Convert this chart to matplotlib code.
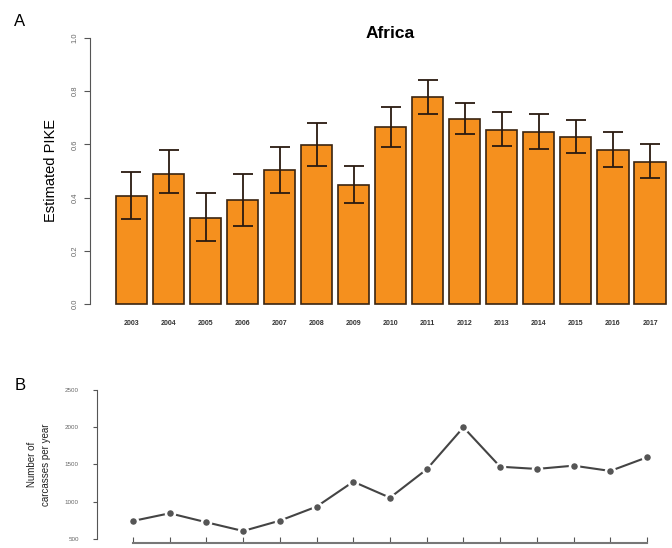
import numpy as np
import matplotlib
matplotlib.use("Agg")
import matplotlib.pyplot as plt

plt.rcParams['font.family'] = ['Liberation Sans', 'DejaVu Sans']

years = [2003, 2004, 2005, 2006, 2007, 2008, 2009, 2010,
         2011, 2012, 2013, 2014, 2015, 2016, 2017]
pike = [0.406, 0.490, 0.323, 0.391, 0.504, 0.598, 0.447, 0.665,
        0.778, 0.695, 0.654, 0.647, 0.628, 0.579, 0.534]
pike_lo = [0.320, 0.417, 0.237, 0.293, 0.417, 0.519, 0.380, 0.590,
           0.714, 0.639, 0.594, 0.583, 0.567, 0.515, 0.474]
pike_hi = [0.496, 0.580, 0.417, 0.489, 0.590, 0.680, 0.519, 0.741,
           0.842, 0.755, 0.722, 0.714, 0.692, 0.647, 0.600]
carcasses = [742, 845, 724, 607, 746, 934, 1269, 1054,
             1435, 1999, 1470, 1440, 1484, 1413, 1596]
pike_ticks = [0.0, 0.2, 0.4, 0.6, 0.8, 1.0]
carc_ticks = [500, 1000, 1500, 2000, 2500]

W, H = 672, 548
fig = plt.figure(figsize=(W / 100, H / 100), dpi=100)

axis_col = '#555555'
x = np.arange(len(years))

# panel A: bar chart with error bars
axA = fig.add_axes([90 / W, 1 - 314.6 / H, (W - 90) / W, 287.3 / H])
err = [np.array(pike) - np.array(pike_lo), np.array(pike_hi) - np.array(pike)]
axA.bar(x, pike, width=0.84, color='#F5901E', edgecolor='#3a2410', linewidth=1.2)
axA.errorbar(x, pike, yerr=err, fmt='none', ecolor='#2a1a10',
             elinewidth=1.3, capsize=7, capthick=1.3)
axA.set_xlim(-(131.5 - 90) / 37.07, 14 + (W - 650) / 37.07)
axA.set_ylim(-0.04, 1.04)
for s in ['top', 'right', 'bottom']:
    axA.spines[s].set_visible(False)
axA.spines['left'].set_bounds(0, 1)
axA.spines['left'].set_color(axis_col)
axA.set_yticks(pike_ticks)
axA.set_yticklabels(['%.1f' % t for t in pike_ticks], rotation=90,
                    va='center', fontsize=5.5, color='#666666')
axA.tick_params(axis='y', length=4, color=axis_col, pad=4)
axA.set_xticks(x)
axA.set_xticklabels([str(y) for y in years], fontsize=5, fontweight='bold',
                    color='#333333')
axA.tick_params(axis='x', length=0, pad=4)
axA.set_ylabel('Estimated PIKE', fontsize=10.5, labelpad=10)
fig.text(390 / W, 1 - 33 / H, 'Africa', fontsize=12.5, fontweight='bold',
         ha='center', va='center')

# panel B: carcass counts
axB = fig.add_axes([97 / W, 1 - 543 / H, (W - 97) / W, 157.5 / H])
axB.plot(x, carcasses, color='#444444', linewidth=1.5, marker='o',
         markersize=6.5, markerfacecolor='#555555',
         markeredgecolor='white', markeredgewidth=1.8)
axB.set_xlim(-(133 - 97) / 36.7, 14 + (W - 647) / 36.7)
axB.set_ylim(446, 2560)
for s in ['top', 'right']:
    axB.spines[s].set_visible(False)
axB.spines['left'].set_bounds(500, 2500)
axB.spines['bottom'].set_bounds(0, 14)
axB.spines['left'].set_color(axis_col)
axB.spines['bottom'].set_color('#777777')
axB.spines['bottom'].set_linewidth(1.5)
axB.set_yticks(carc_ticks)
axB.set_yticklabels([str(t) for t in carc_ticks], fontsize=4.5,
                    color='#666666')
axB.tick_params(axis='y', length=3, color=axis_col, pad=10)
axB.set_xticks(x)
axB.set_xticklabels([])
axB.tick_params(axis='x', direction='in', length=4, color='#555555')
axB.set_ylabel('Number of\ncarcasses per year', fontsize=7, labelpad=10,
               color='#222222', linespacing=1.5)

fig.text(20 / W, 1 - 22 / H, 'A', fontsize=12, va='center', ha='center')
fig.text(20 / W, 1 - 385 / H, 'B', fontsize=12, va='center', ha='center')

fig.savefig('out.png', dpi=100)
